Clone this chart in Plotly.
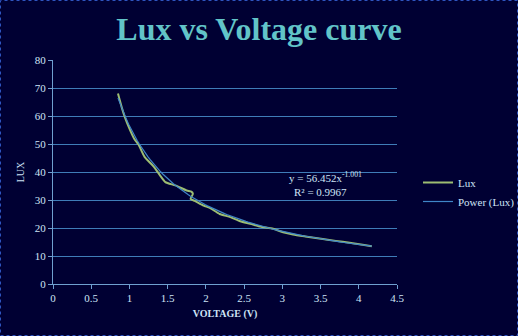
import numpy as np
import plotly.graph_objects as go

# Measured lux readings against supply voltage
voltage = [0.85, 0.90, 0.94, 1.00, 1.06, 1.12, 1.20, 1.27, 1.33, 1.40, 1.47,
           1.60, 1.75, 1.81, 1.83, 1.80, 1.86, 1.97, 2.05, 2.18, 2.32, 2.45,
           2.58, 2.71, 2.88, 3.01, 3.14, 3.30, 3.53, 3.70, 3.88, 4.05, 4.17]
lux = [68.0, 63.0, 59.6, 55.5, 52.0, 49.7, 45.3, 43.3, 41.5, 38.8, 36.4,
       35.2, 33.4, 33.0, 32.2, 30.4, 29.6, 28.0, 27.2, 25.0, 23.9, 22.4,
       21.5, 20.5, 19.7, 18.5, 17.7, 17.0, 16.1, 15.4, 14.7, 14.0, 13.5]

# Power-law trend fitted to the readings
coef_a = 56.452
coef_b = -1.001
r_squared = 0.9967

y_ticks = [0, 10, 20, 30, 40, 50, 60, 70, 80]
x_ticks = [0, 0.5, 1, 1.5, 2, 2.5, 3, 3.5, 4, 4.5]
x_tick_text = ["0", "0.5", "1", "1.5", "2", "2.5", "3", "3.5", "4", "4.5"]

trend_x = np.linspace(min(voltage), max(voltage), 120)
trend_y = coef_a * trend_x ** coef_b

BG = "#000033"
TEXT = "#cfe4f7"
GRID = "#3f7cb8"
AXIS = "#6f9fd0"
SERIF = "Liberation Serif, DejaVu Serif, serif"

fig = go.Figure()
fig.add_trace(go.Scatter(
    x=voltage, y=lux, mode="lines", name="Lux",
    line=dict(color="#9dbd72", width=2, shape="spline", smoothing=0.6),
))
fig.add_trace(go.Scatter(
    x=trend_x, y=trend_y, mode="lines", name="Power (Lux)",
    line=dict(color="#3f86c8", width=1.2),
))

W, H = 518, 336
ml, mr, mt, mb = 53, 121, 60, 52
pw, ph = W - ml - mr, H - mt - mb

fig.update_layout(
    width=W, height=H,
    paper_bgcolor=BG, plot_bgcolor=BG,
    margin=dict(l=ml, r=mr, t=mt, b=mb, pad=0, autoexpand=False),
    title=dict(text="<b>Lux vs Voltage curve</b>", x=0.5, xref="container",
               xanchor="center", y=1 - 29 / H, yref="container",
               yanchor="middle",
               font=dict(family=SERIF, size=32, color="#62c4c8")),
    font=dict(family=SERIF, color=TEXT, size=11),
    xaxis=dict(range=[0, 4.5], tickvals=x_ticks, ticktext=x_tick_text,
               showgrid=False, zeroline=False, showline=True,
               linecolor=AXIS, linewidth=1, ticks="outside", ticklen=4,
               tickcolor=AXIS, tickfont=dict(size=11, color=TEXT),
               title=dict(text="<b>VOLTAGE (V)</b>", standoff=6,
                          font=dict(size=10, color=TEXT))),
    yaxis=dict(range=[0, 80], tickvals=y_ticks, showgrid=True,
               gridcolor=GRID, gridwidth=1, zeroline=False, showline=True,
               linecolor=AXIS, linewidth=1, ticks="outside", ticklen=4,
               tickcolor=AXIS, tickfont=dict(size=11, color=TEXT),
               title=dict(text="LUX", standoff=8,
                          font=dict(size=10, color=TEXT))),
    legend=dict(x=1 + (418 - (W - mr)) / pw, y=1 - (168 - mt) / ph,
                xanchor="left", yanchor="top", bgcolor="rgba(0,0,0,0)",
                font=dict(size=11, color=TEXT), tracegroupgap=2,
                itemwidth=30),
    showlegend=True,
)

fig.add_annotation(
    x=3.56, y=38.2, xref="x", yref="y", showarrow=False,
    text=f"y = {coef_a}x<sup>{coef_b}</sup>",
    font=dict(family=SERIF, size=11, color=TEXT),
)
fig.add_annotation(
    x=3.50, y=32.9, xref="x", yref="y", showarrow=False,
    text=f"R² = {r_squared}",
    font=dict(family=SERIF, size=11, color=TEXT),
)

# Dotted outer border around the whole chart
fig.add_shape(
    type="rect", xref="paper", yref="paper",
    x0=-(ml - 0.5) / pw, x1=1 + (mr - 0.5) / pw,
    y0=-(mb - 0.5) / ph, y1=1 + (mt - 0.5) / ph,
    line=dict(color="#2f55c0", width=1, dash="dot"),
)

fig.write_html("out.html")
